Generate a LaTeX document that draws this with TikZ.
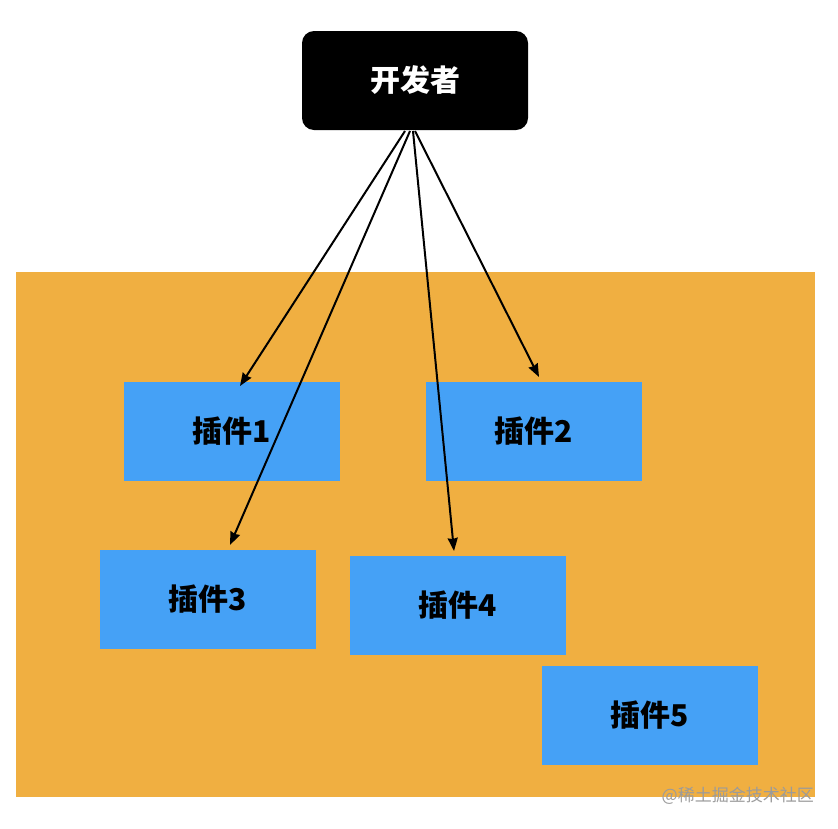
\documentclass[tikz,border=0pt]{standalone}
\usepackage{fontspec}
\newfontfamily\cjk{Noto Sans CJK SC}
\usetikzlibrary{arrows.meta}
\definecolor{bgorange}{HTML}{F0AF41}
\definecolor{plugblue}{HTML}{45A1F6}
\definecolor{wmgray}{HTML}{9B9B9B}
\tikzset{
  plugin/.style={fill=plugblue, draw=none, minimum width=216pt, minimum height=99pt, inner sep=0pt, font=\cjk\bfseries\fontsize{30}{36}\selectfont},
  devbox/.style={fill=black, draw=none, rounded corners=12pt, minimum width=226pt, minimum height=99pt, inner sep=0pt, text=white, font=\cjk\bfseries\fontsize{30}{36}\selectfont},
  link/.style={line width=2pt, -{Stealth[length=13pt,width=10pt,inset=1pt]}}
}
\begin{document}
\begin{tikzpicture}[x=1pt,y=-1pt]
\useasboundingbox (0,0) rectangle (838,828);
\fill[bgorange] (16,272) rectangle (815,797);
\node[devbox] (dev) at (415,80.5) {开发者};
\node[plugin] (p1) at (232,431.5) {插件1};
\node[plugin] (p2) at (534,431.5) {插件2};
\node[plugin] (p3) at (208,599.5) {插件3};
\node[plugin] (p4) at (458,605.5) {插件4};
\node[plugin] (p5) at (650,715.5) {插件5};
\coordinate (s1) at (405,131);
\coordinate (s3) at (410,131);
\coordinate (s4) at (413,131);
\coordinate (s2) at (415,131);
\coordinate (t1) at (240,386);
\coordinate (t2) at (539,377);
\coordinate (t3) at (230,545);
\coordinate (t4) at (454,551);
\draw[link] (s1) -- (t1);
\draw[link] (s2) -- (t2);
\draw[link] (s3) -- (t3);
\draw[link] (s4) -- (t4);
\node[anchor=east, text=wmgray, inner sep=0pt, font=\cjk\fontsize{17}{20}\selectfont] (wm) at (814,796) {@稀土掘金技术社区};
\end{tikzpicture}
\end{document}
